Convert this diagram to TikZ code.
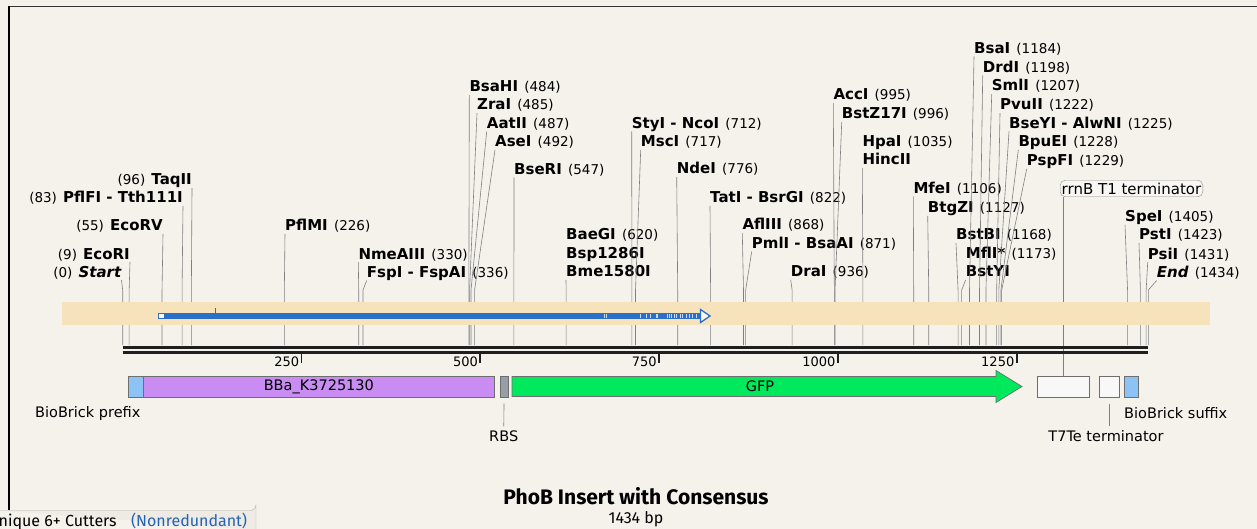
\documentclass[tikz,border=0pt]{standalone}
\usepackage{fontspec}
\setmainfont{DejaVu Sans}
\newfontfamily\titlefont{Fira Sans}
\usetikzlibrary{positioning}
\definecolor{bgcream}{HTML}{F5F1EB}
\definecolor{bandtan}{HTML}{F6E3BC}
\definecolor{orfblue}{HTML}{2B6FC9}
\definecolor{featpurple}{HTML}{C98CF3}
\definecolor{featgreen}{HTML}{00E85C}
\definecolor{featblue}{HTML}{8DC2F4}
\definecolor{featgrey}{HTML}{979EA7}
\definecolor{featwhite}{HTML}{F8F8F8}
\definecolor{featedge}{HTML}{6E6E6E}
\definecolor{sitegrey}{HTML}{808080}
\definecolor{nonred}{HTML}{2363B5}
\newcommand{\cutname}[1]{{\fontsize{15}{17}\selectfont\bfseries #1}}
\newcommand{\cutpos}[1]{{\fontsize{13.5}{17}\selectfont(#1)}}
\newcommand{\enzR}[2]{\cutname{#1}\hspace{0.62em}\cutpos{#2}}
\newcommand{\enzL}[2]{\cutpos{#2}\hspace{0.62em}\cutname{#1}}
\tikzset{%
  cut/.style       = {inner sep=0pt, text depth=3pt, anchor=base west},%
  cutL/.style      = {cut, anchor=base east},%
  siteline/.style  = {draw=sitegrey, line width=0.6pt},%
  feature/.style   = {draw=featedge, line width=0.7pt, inner sep=0pt,%
                      minimum height=21pt, anchor=north west,%
                      font=\fontsize{14.5}{16}\selectfont},%
  featlabel/.style = {inner sep=0pt, font=\fontsize{14.5}{16}\selectfont}%
}
\begin{document}
\begin{tikzpicture}[x=1pt,y=-1pt]
\useasboundingbox (0,0) rectangle (1257,529);
\fill[bgcream] (0,0) rectangle (1257,529);
\draw[black!80, line width=1.2pt] (8,6.5) -- (1257,6.5);
\draw[black, line width=2.5pt] (9,6) -- (9,510);
\foreach \bp in {0,9,55,83,96,226,330,336,484,485,487,492,547,620,712,717,776,822,868,871,
  936,995,996,1035,1106,1127,1168,1173,1184,1198,1207,1222,1225,1228,1229,1405,1423,1431,1434}
  \coordinate (r\bp) at ({122.7+0.7152*\bp},345);
\coordinate (bend) at (0,290);
\begin{scope}
	\node[cutL] (Start)   at (121.5,277) {\cutpos{0}\hspace{0.62em}{\fontsize{15}{17}\selectfont\bfseries\itshape Start}};
	\node[cutL] (EcoRI)   at (130,259)   {\enzL{EcoRI}{9}};
	\node[cutL] (EcoRV)   at (163,231)   {\enzL{EcoRV}{55}};
	\node[cutL] (PflFI)   at (183,203)   {\enzL{PflFI - Tth111I}{83}};
	\node[cutL] (TaqII)   at (192,185)   {\enzL{TaqII}{96}};
	\node[cut]  (PflMI)   at (285,230.7) {\enzR{PflMI}{226}};
	\node[cut]  (NmeAIII) at (358.3,259) {\enzR{NmeAIII}{330}};
	\node[cut]  (FspI)    at (366.7,277.3) {\enzR{FspI - FspAI}{336}};
	\node[cut]  (BsaHI)   at (469.3,91.7)  {\enzR{BsaHI}{484}};
	\node[cut]  (ZraI)    at (477,110)     {\enzR{ZraI}{485}};
	\node[cut]  (AatII)   at (486.7,128.3) {\enzR{AatII}{487}};
	\node[cut]  (AseI)    at (495,146.7)   {\enzR{AseI}{492}};
	\node[cut]  (BseRI)   at (514,174.3)   {\enzR{BseRI}{547}};
	\node[cut]  (BaeGI)   at (566,240)     {\enzR{BaeGI}{620}};
	\node[cut]  (Bsp)     at (566,258.3)   {\cutname{Bsp1286I}};
	\node[cut]  (Bme)     at (566,276.7)   {\cutname{Bme1580I}};
	\node[cut]  (StyI)    at (631.7,128.3) {\enzR{StyI - NcoI}{712}};
	\node[cut]  (MscI)    at (640.7,146.7) {\enzR{MscI}{717}};
	\node[cut]  (NdeI)    at (676.7,174)   {\enzR{NdeI}{776}};
	\node[cut]  (TatI)    at (710,202.7)   {\enzR{TatI - BsrGI}{822}};
	\node[cut]  (AflIII)  at (742.3,230)   {\enzR{AflIII}{868}};
	\node[cut]  (PmlI)    at (751.7,248.3) {\enzR{PmlI - BsaAI}{871}};
	\node[cut]  (DraI)    at (790.7,276.7) {\enzR{DraI}{936}};
	\node[cut]  (AccI)    at (833.3,100)   {\enzR{AccI}{995}};
	\node[cut]  (BstZ)    at (841.7,119)   {\enzR{BstZ17I}{996}};
	\node[cut]  (HpaI)    at (862.3,146.7) {\enzR{HpaI}{1035}};
	\node[cut]  (HincII)  at (862.3,165)   {\cutname{HincII}};
	\node[cut]  (MfeI)    at (913.3,193.3) {\enzR{MfeI}{1106}};
	\node[cut]  (BtgZI)   at (927.7,212.7) {\enzR{BtgZI}{1127}};
	\node[cut]  (BstBI)   at (956,240)     {\enzR{BstBI}{1168}};
	\node[cut]  (MflI)    at (965.7,258.3) {\enzR{MflI*}{1173}};
	\node[cut]  (BstYI)   at (965.7,276.7) {\cutname{BstYI}};
	\node[cut]  (BsaI)    at (974,53.3)    {\enzR{BsaI}{1184}};
	\node[cut]  (DrdI)    at (982.7,72.3)  {\enzR{DrdI}{1198}};
	\node[cut]  (SmlI)    at (991.7,91)    {\enzR{SmlI}{1207}};
	\node[cut]  (PvuII)   at (1000,110)    {\enzR{PvuII}{1222}};
	\node[cut]  (BseYI)   at (1009,128.3)  {\enzR{BseYI - AlwNI}{1225}};
	\node[cut]  (BpuEI)   at (1018.3,146.7) {\enzR{BpuEI}{1228}};
	\node[cut]  (PspFI)   at (1026.7,165.7) {\enzR{PspFI}{1229}};
	\node[cut]  (SpeI)    at (1125,221.7)  {\enzR{SpeI}{1405}};
	\node[cut]  (PstI)    at (1139,240)    {\enzR{PstI}{1423}};
	\node[cut]  (PsiI)    at (1147.7,259)  {\enzR{PsiI}{1431}};
	\node[cut]  (End)     at (1156.7,277.3) {{\fontsize{15}{17}\selectfont\bfseries\itshape End}\hspace{0.62em}\cutpos{1434}};
\end{scope}
\draw[siteline] (Start.south east)  -- (r0 |- bend) -- (r0);
\draw[siteline] (EcoRI.south east)  -- (r9 |- bend) -- (r9);
\draw[siteline] (EcoRV.south east)  -- (r55 |- bend) -- (r55);
\draw[siteline] (PflFI.south east)  -- (r83 |- bend) -- (r83);
\draw[siteline] (TaqII.south east)  -- (r96 |- bend) -- (r96);
\draw[siteline] (PflMI.south west)  -- (r226 |- bend) -- (r226);
\draw[siteline] (NmeAIII.south west) -- (r330 |- bend) -- (r330);
\draw[siteline] (FspI.south west)   -- (r336 |- bend) -- (r336);
\draw[siteline] (BsaHI.south west)  -- (r484 |- bend) -- (r484);
\draw[siteline] (ZraI.south west)   -- (r485 |- bend) -- (r485);
\draw[siteline] (AatII.south west)  -- (r487 |- bend) -- (r487);
\draw[siteline] (AseI.south west)   -- (r492 |- bend) -- (r492);
\draw[siteline] (BseRI.south west)  -- (r547 |- bend) -- (r547);
\draw[siteline] (Bme.south west)    -- (r620 |- bend) -- (r620);
\draw[siteline] (StyI.south west)   -- (r712 |- bend) -- (r712);
\draw[siteline] (MscI.south west)   -- (r717 |- bend) -- (r717);
\draw[siteline] (NdeI.south west)   -- (r776 |- bend) -- (r776);
\draw[siteline] (TatI.south west)   -- (r822 |- bend) -- (r822);
\draw[siteline] (AflIII.south west) -- (r868 |- bend) -- (r868);
\draw[siteline] (PmlI.south west)   -- (r871 |- bend) -- (r871);
\draw[siteline] (DraI.south west)   -- (r936 |- bend) -- (r936);
\draw[siteline] (AccI.south west)   -- (r995 |- bend) -- (r995);
\draw[siteline] (BstZ.south west)   -- (r996 |- bend) -- (r996);
\draw[siteline] (HincII.south west) -- (r1035 |- bend) -- (r1035);
\draw[siteline] (MfeI.south west)   -- (r1106 |- bend) -- (r1106);
\draw[siteline] (BtgZI.south west)  -- (r1127 |- bend) -- (r1127);
\draw[siteline] (BstBI.south west)  -- (r1168 |- bend) -- (r1168);
\draw[siteline] (BstYI.south west)  -- (r1173 |- bend) -- (r1173);
\draw[siteline] (BsaI.south west)   -- (r1184 |- bend) -- (r1184);
\draw[siteline] (DrdI.south west)   -- (r1198 |- bend) -- (r1198);
\draw[siteline] (SmlI.south west)   -- (r1207 |- bend) -- (r1207);
\draw[siteline] (PvuII.south west)  -- (r1222 |- bend) -- (r1222);
\draw[siteline] (BseYI.south west)  -- (r1225 |- bend) -- (r1225);
\draw[siteline] (BpuEI.south west)  -- (r1228 |- bend) -- (r1228);
\draw[siteline] (PspFI.south west)  -- (r1229 |- bend) -- (r1229);
\draw[siteline] (SpeI.south west)   -- (r1405 |- bend) -- (r1405);
\draw[siteline] (PstI.south west)   -- (r1423 |- bend) -- (r1423);
\draw[siteline] (PsiI.south west)   -- (r1431 |- bend) -- (r1431);
\draw[siteline] (End.south west)    -- (r1434 |- bend) -- (r1434);
% terminator label above the map
\node[draw=black!45, rounded corners=5pt, fill=bgcream!60!white, inner sep=1.5pt,
      minimum height=16.5pt, font=\fontsize{15}{16}\selectfont] (rrnB) at (1131.5,188.5) {rrnB T1 terminator};
\node[feature, fill=featwhite, minimum width=52.5pt] (term1) at (1036.5,376) {};
\draw[siteline] ([xshift=3.3pt]rrnB.south west) -- ([xshift=3.3pt]rrnB.south west |- term1.north);
% sequence band and ORF
\fill[bandtan] (62,302) rectangle (1210,325);
\fill[orfblue] (158,313) rectangle (701,319);
\foreach \x in {604.3,606.7,640,646,650,656,657.3,667.3,669.3,671.7,674,676,680,682.7,686.7,689.3,692.7,696}
	\draw[white!75!orfblue, line width=0.7pt] (\x,314) -- (\x,318);
\draw[orfblue, line width=1.3pt, fill=bandtan!30!white] (700.5,309.5) -- (710,316) -- (700.5,322.5) -- cycle;
\draw[orfblue, line width=0.8pt, fill=bandtan!30!white] (158.5,313.5) rectangle (164,318.5);
\draw[orfblue, line width=0.8pt] (215,308) -- (215,313);
% ruler
\draw[black!88, line width=3.2pt] (122.7,347.4) -- (1148.3,347.4);
\draw[black!88, line width=3.2pt] (122.7,352.6) -- (1148.3,352.6);
\foreach \t in {250,500,750,1000,1250} {
	\draw[black!88, line width=1.8pt] ({122.7+0.7152*\t},354) -- ++(0,9);
	\node[anchor=base east, inner sep=0pt, font=\fontsize{13}{15}\selectfont] (tick\t) at ({120.5+0.7152*\t},366) {\t};
}
% features
\node[feature, fill=featblue, minimum width=15pt]   (prefix) at (128,376) {};
\node[feature, fill=featpurple, minimum width=351pt] (bba) at (143,376) {BBa\_K3725130};
\node[feature, fill=featgrey, minimum width=8.5pt]  (rbs) at (499.5,376) {};
\draw[featedge, line width=0.7pt, fill=featgreen] (512,376.5) -- (996,376.5) -- (996,370.5) -- (1022,386.5)
	-- (996,402.5) -- (996,396.5) -- (512,396.5) -- cycle;
\node[featlabel] (gfp) at (760,386.5) {GFP};
\node[feature, fill=featwhite, minimum width=20pt]   (term2) at (1098.5,376) {};
\node[feature, fill=featblue, minimum width=14.5pt]  (suffix) at (1123.7,376) {};
\node[featlabel, anchor=west] (prefixlab) at (35,413) {BioBrick prefix};
\node[featlabel, anchor=west] (suffixlab) at (1124,413) {BioBrick suffix};
\node[featlabel] (rbslab) at (503.7,436) {RBS};
\node[featlabel] (term2lab) at (1106,436) {T7Te terminator};
\draw[siteline, shorten <=6pt, shorten >=4pt] (term2.south) -- (term2.south |- term2lab.north);
\draw[siteline, shorten <=6pt, shorten >=4pt] (rbs.south) -- (rbslab.north);
% title
\node[font=\titlefont\bfseries\fontsize{21}{22}\selectfont] (title) at (636,496) {PhoB Insert with Consensus};
\node[font=\titlefont\fontsize{16}{17}\selectfont, below=0pt of title] (length) {1434 bp};
% enzyme set tab
\draw[black!30, fill=black!3!bgcream] (-1,510.5) -- (250,510.5) arc[start angle=90, end angle=0, radius=6] -- (256,530);
\node[anchor=base west, inner sep=0pt, font=\titlefont\fontsize{16}{17}\selectfont] (tab) at (-1.5,526)
	{nique 6+ Cutters\hspace{0.9em}\textcolor{nonred}{(Nonredundant)}};
\end{tikzpicture}
\end{document}
